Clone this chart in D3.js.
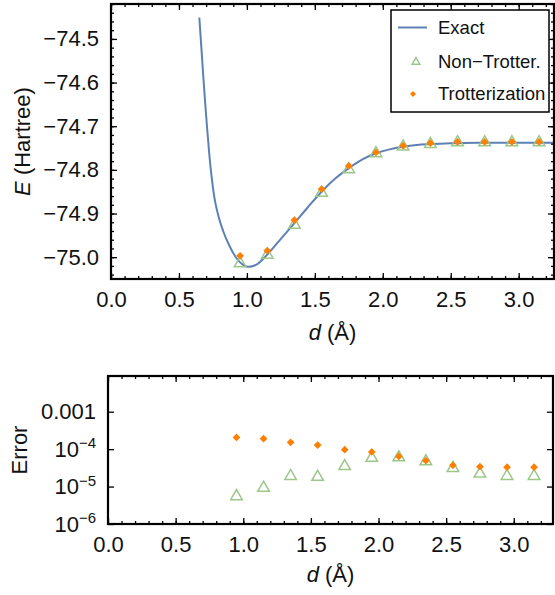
<!DOCTYPE html>
<html>
<head>
<meta charset="utf-8">
<script src="https://cdn.jsdelivr.net/npm/d3@7"></script>
<style>
  body { margin: 0; background: #fff; }
  svg text { font-family: "Liberation Sans", Arial, sans-serif; fill: #111; }
</style>
</head>
<body>
<svg id="chart" width="555" height="595"></svg>
<script>
// bond length of every sampled point (Å)
const dPoints = [0.95, 1.15, 1.35, 1.55, 1.75, 1.95, 2.15, 2.35, 2.55, 2.75, 2.95, 3.15];

// energies (Hartree)
const trotterEnergy    = [-74.997, -74.985, -74.915, -74.844, -74.791, -74.760, -74.745, -74.739, -74.736, -74.736, -74.736, -74.736];
const nonTrotterEnergy = [-75.014, -74.995, -74.926, -74.853, -74.799, -74.762, -74.747, -74.741, -74.737, -74.737, -74.737, -74.737];

// exact curve
const exactD = [0.65, 0.665, 0.68, 0.695, 0.71, 0.725, 0.74, 0.76, 0.79, 0.825, 0.875, 0.925, 0.975, 1.01, 1.07,
                1.15, 1.25, 1.35, 1.45, 1.55, 1.65, 1.75, 1.85, 1.95, 2.05, 2.15, 2.25, 2.35, 2.5, 2.7, 3.0, 3.26];
const exactE = [-74.451, -74.52, -74.59, -74.655, -74.715, -74.77, -74.815, -74.862, -74.905, -74.94, -74.976, -75.003,
                -75.018, -75.022, -75.017, -74.994, -74.958, -74.922, -74.885, -74.85, -74.82, -74.796, -74.776, -74.762,
                -74.753, -74.747, -74.743, -74.741, -74.739, -74.738, -74.738, -74.738];

// errors
const trotterError    = [2.06e-4, 1.9e-4, 1.52e-4, 1.29e-4, 9.7e-5, 8.4e-5, 6.4e-5, 4.9e-5, 3.7e-5, 3.4e-5, 3.3e-5, 3.3e-5];
const nonTrotterError = [5.5e-6, 9.2e-6, 1.9e-5, 1.8e-5, 3.5e-5, 5.8e-5, 6.0e-5, 4.7e-5, 3.1e-5, 2.2e-5, 1.9e-5, 1.9e-5];

// ticks
const dTicks = [0, 0.5, 1.0, 1.5, 2.0, 2.5, 3.0];
const energyTicks = [-75.0, -74.9, -74.8, -74.7, -74.6, -74.5];
const errorTicks = [1e-6, 1e-5, 1e-4, 1e-3];
const errorTickLabels = [["10", "−6"], ["10", "−5"], ["10", "−4"], ["0.001", ""]];
const legendLabels = ["Exact", "Non−Trotter.", "Trotterization"];

const blue = "#5e81b5", orange = "#ff7f00", green = "#9cc789";
const svg = d3.select("#chart");

//Scales for both panels
const xTop = d3.scaleLinear().domain([0, 3.26]).range([111, 554]);
const yTop = d3.scaleLinear().domain([-75.05, -74.42]).range([279, 4]);
const xBot = d3.scaleLinear().domain([0, 3.29]).range([108, 553]);
const yBot = d3.scaleLog().domain([1e-6, 9e-3]).range([524, 376]);

const triangle = d3.symbol().type(d3.symbolTriangle).size(58);
const diamond = d3.symbol().type(d3.symbolSquare).size(30);

//Inner ticks on all four sides of a frame
function drawFrame(x, y, yMinor, labelY){
  const [x0, x1] = x.range();
  const [y0, y1] = y.range();
  const xMinor = d3.range(0, x.domain()[1], 0.1);

  const tick = (axis, tx, ty) => svg.append("g")
      .attr("transform", "translate(" + tx + "," + ty + ")")
      .call(axis)
      .call(g => g.select(".domain").remove())
      .call(g => g.selectAll("line").attr("stroke", "#000").attr("stroke-width", 1.3));

  // minor
  tick(d3.axisBottom(x).tickValues(xMinor).tickSize(-3).tickFormat(""), 0, y0);
  tick(d3.axisTop(x).tickValues(xMinor).tickSize(-3).tickFormat(""), 0, y1);
  if (yMinor) {
    tick(d3.axisLeft(y).tickValues(yMinor).tickSize(-3).tickFormat(""), x0, 0);
    tick(d3.axisRight(y).tickValues(yMinor).tickSize(-3).tickFormat(""), x1, 0);
  }
  // major
  tick(d3.axisBottom(x).tickValues(dTicks).tickSize(-6).tickPadding(12).tickFormat(d3.format(".1f")), 0, y0)
    .selectAll("text").style("font-size", "22px");
  tick(d3.axisTop(x).tickValues(dTicks).tickSize(-6).tickFormat(""), 0, y1);
  const left = tick(d3.axisLeft(y).tickValues(labelY.values).tickSize(-6).tickPadding(12).tickFormat(labelY.format), x0, 0);
  left.selectAll("text").style("font-size", "22px");
  tick(d3.axisRight(y).tickValues(labelY.values).tickSize(-6).tickFormat(""), x1, 0);

  svg.append("rect")
     .attr("x", x0).attr("y", y1)
     .attr("width", x1 - x0).attr("height", y0 - y1)
     .attr("fill", "none").attr("stroke", "#000").attr("stroke-width", 2.2);
  return left;
}

//Upper panel
svg.append("clipPath").attr("id", "topClip")
   .append("rect").attr("x", 111).attr("y", 4).attr("width", 443).attr("height", 275);

const exactLine = d3.line()
  .x(i => xTop(exactD[i]))
  .y(i => yTop(exactE[i]))
  .curve(d3.curveMonotoneX);

svg.append("path")
   .attr("clip-path", "url(#topClip)")
   .attr("d", exactLine(d3.range(exactD.length)))
   .attr("fill", "none").attr("stroke", blue).attr("stroke-width", 2);

svg.append("g").selectAll("path").data(dPoints).join("path")
   .attr("d", triangle)
   .attr("transform", (d, i) => "translate(" + xTop(d) + "," + yTop(nonTrotterEnergy[i]) + ")")
   .attr("fill", "none").attr("stroke", green).attr("stroke-width", 1.5);

svg.append("g").selectAll("path").data(dPoints).join("path")
   .attr("d", diamond)
   .attr("transform", (d, i) => "translate(" + xTop(d) + "," + yTop(trotterEnergy[i]) + ") rotate(45)")
   .attr("fill", orange);

drawFrame(xTop, yTop, d3.range(-75.04, -74.42, 0.02), {values: energyTicks, format: d3.format(".1f")});

svg.append("text")
   .attr("transform", "translate(30,141.5) rotate(-90)")
   .attr("text-anchor", "middle")
   .style("font-size", "22px")
   .html('<tspan font-style="italic">E</tspan> (Hartree)');

svg.append("text")
   .attr("x", 332.5).attr("y", 340)
   .attr("text-anchor", "middle")
   .style("font-size", "22px")
   .html('<tspan font-style="italic">d</tspan> (Å)');

//Legend
const legend = svg.append("g");
legend.append("rect")
      .attr("x", 391).attr("y", 10).attr("width", 158).attr("height", 102)
      .attr("fill", "#fff").attr("stroke", "#000").attr("stroke-width", 1.5);
legend.append("line")
      .attr("x1", 398).attr("x2", 427).attr("y1", 27.5).attr("y2", 27.5)
      .attr("stroke", blue).attr("stroke-width", 2);
legend.append("path")
      .attr("d", d3.symbol().type(d3.symbolTriangle).size(26))
      .attr("transform", "translate(416,62)")
      .attr("fill", "none").attr("stroke", green).attr("stroke-width", 1.5);
legend.append("path")
      .attr("d", d3.symbol().type(d3.symbolSquare).size(18))
      .attr("transform", "translate(413,94) rotate(45)")
      .attr("fill", orange);
legend.selectAll("text").data(legendLabels).join("text")
      .attr("x", 438)
      .attr("y", (d, i) => [27.5, 61.5, 93.5][i])
      .attr("dy", "0.35em")
      .style("font-size", "18.5px")
      .text(d => d);

//Lower panel
svg.append("g").selectAll("path").data(dPoints).join("path")
   .attr("d", triangle)
   .attr("transform", (d, i) => "translate(" + xBot(d) + "," + yBot(nonTrotterError[i]) + ")")
   .attr("fill", "none").attr("stroke", green).attr("stroke-width", 1.5);

svg.append("g").selectAll("path").data(dPoints).join("path")
   .attr("d", diamond)
   .attr("transform", (d, i) => "translate(" + xBot(d) + "," + yBot(trotterError[i]) + ") rotate(45)")
   .attr("fill", orange);

const logAxis = drawFrame(xBot, yBot, null, {values: errorTicks, format: (d, i) => errorTickLabels[i][0]});
logAxis.selectAll("text").each(function(d, i){
  if (errorTickLabels[i][1]) {
    d3.select(this).append("tspan")
      .attr("dy", "-0.55em")
      .style("font-size", "15px")
      .text(errorTickLabels[i][1]);
  }
});

svg.append("text")
   .attr("transform", "translate(27,450) rotate(-90)")
   .attr("text-anchor", "middle")
   .style("font-size", "22px")
   .text("Error");

svg.append("text")
   .attr("x", 330.5).attr("y", 582)
   .attr("text-anchor", "middle")
   .style("font-size", "22px")
   .html('<tspan font-style="italic">d</tspan> (Å)');
</script>
</body>
</html>
